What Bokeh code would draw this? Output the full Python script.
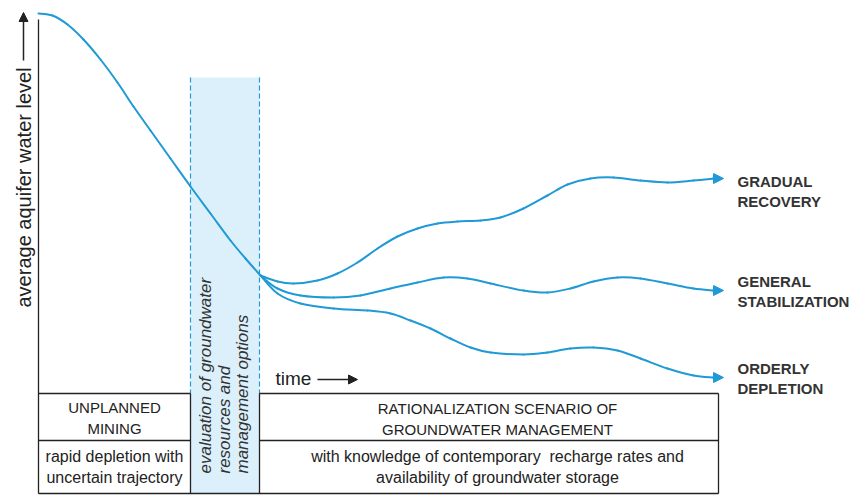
from math import pi
from bokeh.plotting import figure
from bokeh.models import Range1d, Label, Arrow, NormalHead
from bokeh.embed import file_html
from bokeh.resources import INLINE

W, H = 856, 495

# ---- data (x = time, y = screen-level, smaller = higher) ----
main_x = [38, 52, 67, 83, 100, 117, 133, 150, 170, 190, 210, 230, 245, 260]
main_y = [13, 15, 24, 39, 59, 82, 106, 130, 158, 186, 213, 240, 258, 275]

rec_x = [260, 277, 293, 317, 337, 357, 377, 397, 417, 437, 457, 480, 500, 523, 547, 567, 590, 613, 640, 667, 693, 713]
rec_y = [275, 281, 283, 280, 273, 262, 248, 236, 228, 223, 221, 220, 217, 208, 195, 184, 178, 177, 180, 182, 180, 178]

stab_x = [260, 277, 300, 333, 360, 390, 417, 443, 467, 490, 523, 547, 570, 593, 617, 640, 667, 693, 713]
stab_y = [275, 288, 295, 297, 295, 288, 282, 277, 278, 283, 290, 292, 288, 281, 277, 278, 283, 288, 290]

depl_x = [260, 277, 300, 333, 367, 390, 410, 430, 450, 470, 490, 523, 547, 570, 593, 617, 640, 667, 693, 713]
depl_y = [275, 293, 303, 308, 310, 313, 320, 328, 338, 347, 352, 354, 352, 348, 347, 350, 358, 368, 375, 377]

arrow_tip_x = 723
outcome_labels = [["GRADUAL", "RECOVERY"], ["GENERAL", "STABILIZATION"], ["ORDERLY", "DEPLETION"]]
outcome_y = [181, 281, 368]

axis_label = "average aquifer water level"
time_label = "time"
band_lines = ["evaluation of groundwater", "resources and", "management options"]
left_head = ["UNPLANNED", "MINING"]
left_body = ["rapid depletion with", "uncertain trajectory"]
right_head = ["RATIONALIZATION SCENARIO OF", "GROUNDWATER MANAGEMENT"]
right_body = ["with knowledge of contemporary\u00a0 recharge rates and", "availability of groundwater storage"]

# ---- layout constants ----
AX = 38
BAND_L, BAND_R, BAND_T = 190, 259, 77
TAB_T, TAB_M, TAB_B, TAB_R = 393, 440, 493, 718
BLUE = "#1f9ad6"
FILL = "#dcf0fb"
INK = "#222222"
FONT = "Liberation Sans"

p = figure(width=W, height=H, x_range=Range1d(0, W), y_range=Range1d(H, 0),
           output_backend="svg", toolbar_location=None, min_border=0,
           x_axis_location=None, y_axis_location=None)
p.grid.visible = False
p.outline_line_color = None
p.background_fill_color = "white"
p.border_fill_color = "white"

# band
p.quad(left=[BAND_L], right=[BAND_R], top=[BAND_T], bottom=[TAB_B], fill_color=FILL, line_color=None)
p.segment(x0=[BAND_L, BAND_R], y0=[BAND_T, BAND_T], x1=[BAND_L, BAND_R], y1=[TAB_T, TAB_T],
          line_color=BLUE, line_width=1.2, line_dash="5 3")

# table lines
hx0 = [AX, BAND_R, AX, BAND_R, AX]
hx1 = [BAND_L, TAB_R, BAND_L, TAB_R, TAB_R]
hy = [TAB_T, TAB_T, TAB_M, TAB_M, TAB_B]
p.segment(x0=hx0, y0=hy, x1=hx1, y1=hy, line_color=INK, line_width=1.3)
vx = [BAND_L, BAND_R, TAB_R]
p.segment(x0=vx, y0=[TAB_T] * 3, x1=vx, y1=[TAB_B] * 3, line_color=INK, line_width=1.3)
# vertical axis line
p.segment(x0=[AX], y0=[19], x1=[AX], y1=[TAB_B], line_color=INK, line_width=1.3)


def smooth_curve(xs, ys):
    """Draw a smooth curve through the read points with Bokeh's cubic bezier glyph."""
    n = len(xs)
    d = dict(x0=[], y0=[], x1=[], y1=[], cx0=[], cy0=[], cx1=[], cy1=[])
    for i in range(n - 1):
        a = max(i - 1, 0)
        b = min(i + 2, n - 1)
        d["x0"].append(xs[i]); d["y0"].append(ys[i])
        d["x1"].append(xs[i + 1]); d["y1"].append(ys[i + 1])
        d["cx0"].append(xs[i] + (xs[i + 1] - xs[a]) / 6.0)
        d["cy0"].append(ys[i] + (ys[i + 1] - ys[a]) / 6.0)
        d["cx1"].append(xs[i + 1] - (xs[b] - xs[i]) / 6.0)
        d["cy1"].append(ys[i + 1] - (ys[b] - ys[i]) / 6.0)
    p.bezier(source=d, x0="x0", y0="y0", x1="x1", y1="y1", cx0="cx0", cy0="cy0",
             cx1="cx1", cy1="cy1", line_color=BLUE, line_width=2, line_cap="round")


for xs, ys in [(main_x, main_y), (rec_x, rec_y), (stab_x, stab_y), (depl_x, depl_y)]:
    smooth_curve(xs, ys)
for xs, ys in [(rec_x, rec_y), (stab_x, stab_y), (depl_x, depl_y)]:
    p.add_layout(Arrow(end=NormalHead(size=10, fill_color=BLUE, line_color=BLUE, line_width=1),
                       x_start=xs[-1] - 1, y_start=ys[-1], x_end=arrow_tip_x, y_end=ys[-1],
                       line_color=BLUE, line_width=2))

# outcome labels
for lines, yc in zip(outcome_labels, outcome_y):
    for i, t in enumerate(lines):
        p.add_layout(Label(x=737, y=yc + 20 * i, text=t, text_font=FONT, text_font_style="bold",
                           text_font_size="15px", text_color="#333333", text_baseline="middle",
                           text_align="left"))

# y-axis label + arrow
p.add_layout(Label(x=23, y=307, text=axis_label, angle=pi / 2, text_font=FONT, text_font_size="20px",
                   text_color=INK, text_baseline="middle", text_align="left"))
p.add_layout(Arrow(end=NormalHead(size=9, fill_color=INK, line_color=INK), x_start=23, y_start=60,
                   x_end=23, y_end=12, line_color=INK, line_width=1.5))

# time label + arrow
p.add_layout(Label(x=275, y=378, text=time_label, text_font=FONT, text_font_size="19px",
                   text_color=INK, text_baseline="middle", text_align="left"))
p.add_layout(Arrow(end=NormalHead(size=9, fill_color=INK, line_color=INK), x_start=317, y_start=379,
                   x_end=357, y_end=379, line_color=INK, line_width=1.5))

# band rotated text
for i, t in enumerate(band_lines):
    p.add_layout(Label(x=205 + 18.5 * i, y=473, text=t, angle=pi / 2, text_font=FONT,
                       text_font_style="italic", text_font_size="17px", text_color="#333333",
                       text_baseline="middle", text_align="left"))


# table texts
def centered(lines, xc, y0, size):
    for i, t in enumerate(lines):
        p.add_layout(Label(x=xc, y=y0 + 21 * i, text=t, text_font=FONT, text_font_size=size,
                           text_color=INK, text_baseline="middle", text_align="center"))


centered(left_head, 114, 407, "15px")
centered(left_body, 114, 456, "16px")
centered(right_head, 497, 408, "15px")
centered(right_body, 497, 456, "16px")

open("out.html", "w").write(file_html(p, INLINE))
